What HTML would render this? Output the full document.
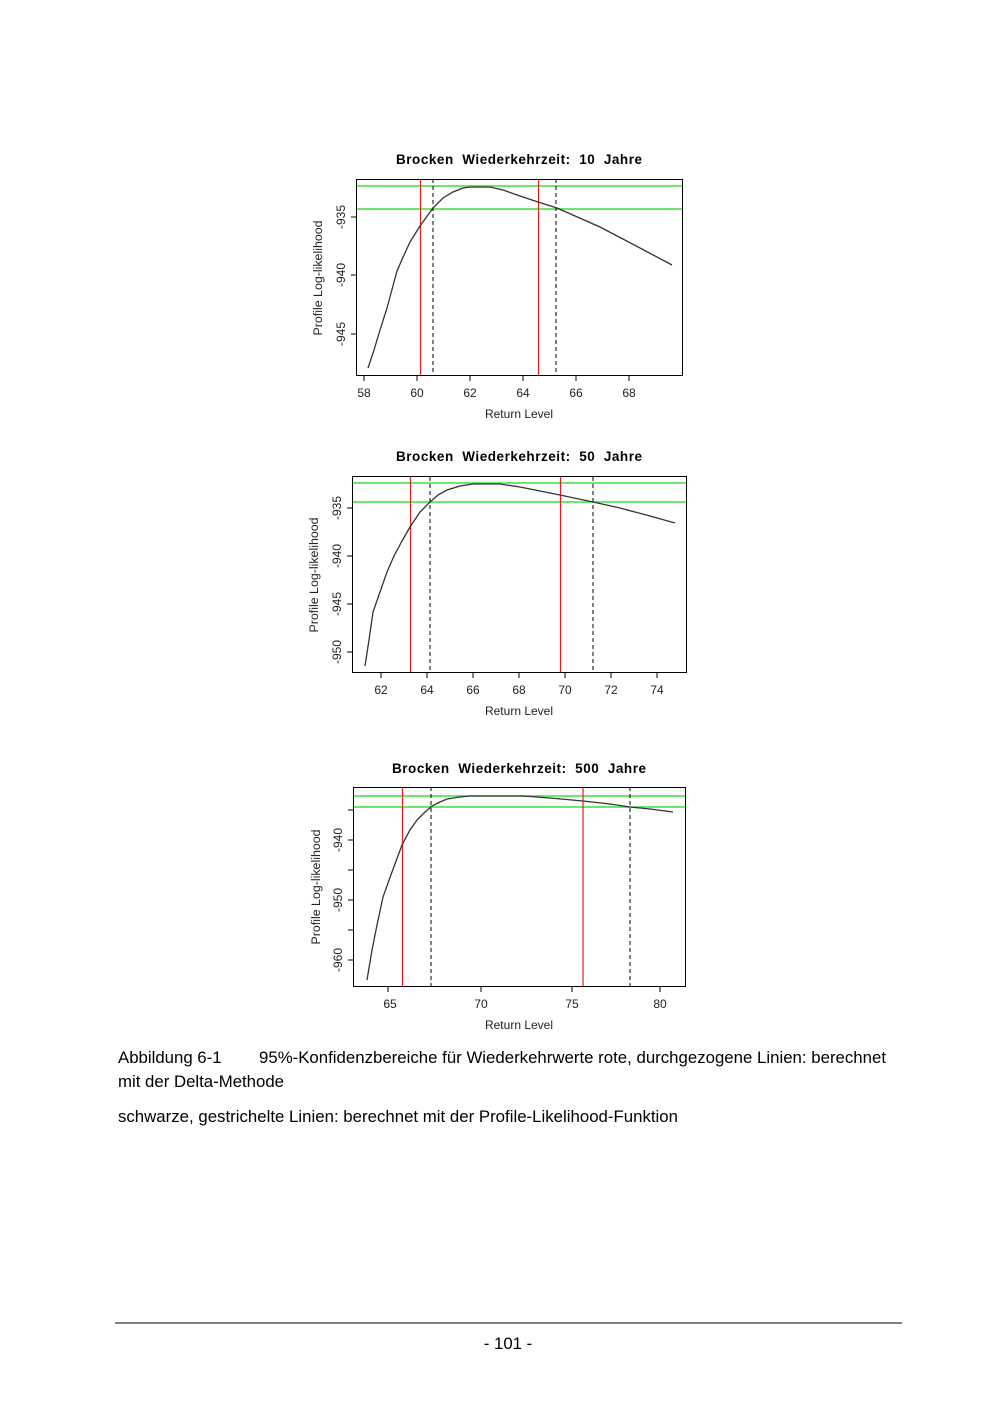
<!DOCTYPE html>
<html><head><meta charset="utf-8"><style>
body{margin:0;background:#fff;}
svg{display:block;}
.t{white-space:pre;}
</style></head><body>
<svg width="1000" height="1414" xmlns="http://www.w3.org/2000/svg" font-family="Liberation Sans, Arial, sans-serif">
<rect width="1000" height="1414" fill="#fff"/>
<!-- Chart 1 -->
<text class="t" x="519" y="164" font-size="13.5" font-weight="bold" text-anchor="middle" fill="#000" textLength="246">Brocken  Wiederkehrzeit:  10  Jahre</text>
<line x1="356" y1="186" x2="683" y2="186" stroke="#3de03d" stroke-width="1.5"/>
<line x1="356" y1="209" x2="683" y2="209" stroke="#3de03d" stroke-width="1.5"/>
<line x1="420.5" y1="179" x2="420.5" y2="376" stroke="#e02020" stroke-width="1.2"/>
<line x1="538.5" y1="179" x2="538.5" y2="376" stroke="#e02020" stroke-width="1.2"/>
<line x1="433" y1="179" x2="433" y2="376" stroke="#000" stroke-width="1" stroke-dasharray="4,3"/>
<line x1="556" y1="179" x2="556" y2="376" stroke="#000" stroke-width="1" stroke-dasharray="4,3"/>
<polyline fill="none" stroke="#333" stroke-width="1.3" points="368,368 374,350 380,330 387,308 397,271 404,255 410,242 420,226 433,208 443,198 453,192 463,188 470,187 490,187 503,190 520,196 538,202 557,208 600,227 640,248 672,265"/>
<rect x="356.5" y="179.5" width="326" height="196" fill="none" stroke="#000" stroke-width="1"/>
<g stroke="#000"><line x1="364" y1="376" x2="364" y2="381"/><line x1="417" y1="376" x2="417" y2="381"/><line x1="470" y1="376" x2="470" y2="381"/><line x1="523" y1="376" x2="523" y2="381"/><line x1="576" y1="376" x2="576" y2="381"/><line x1="629" y1="376" x2="629" y2="381"/>
<line x1="351" y1="217" x2="356" y2="217"/><line x1="351" y1="275" x2="356" y2="275"/><line x1="351" y1="334" x2="356" y2="334"/></g>
<g font-size="12" fill="#222" text-anchor="middle"><text x="364" y="397">58</text><text x="417" y="397">60</text><text x="470" y="397">62</text><text x="523" y="397">64</text><text x="576" y="397">66</text><text x="629" y="397">68</text>
<text x="519" y="418">Return Level</text>
<text transform="translate(345,217) rotate(-90)">-935</text><text transform="translate(345,275) rotate(-90)">-940</text><text transform="translate(345,334) rotate(-90)">-945</text>
<text transform="translate(322,278) rotate(-90)" font-size="12.4">Profile Log-likelihood</text></g>

<!-- Chart 2 -->
<text class="t" x="519" y="461" font-size="13.5" font-weight="bold" text-anchor="middle" fill="#000" textLength="246">Brocken  Wiederkehrzeit:  50  Jahre</text>
<line x1="352" y1="483" x2="687" y2="483" stroke="#3de03d" stroke-width="1.5"/>
<line x1="352" y1="502" x2="687" y2="502" stroke="#3de03d" stroke-width="1.5"/>
<line x1="410.5" y1="477" x2="410.5" y2="673" stroke="#e02020" stroke-width="1.2"/>
<line x1="560.5" y1="477" x2="560.5" y2="673" stroke="#e02020" stroke-width="1.2"/>
<line x1="430" y1="477" x2="430" y2="673" stroke="#000" stroke-width="1" stroke-dasharray="4,3"/>
<line x1="593" y1="477" x2="593" y2="673" stroke="#000" stroke-width="1" stroke-dasharray="4,3"/>
<polyline fill="none" stroke="#333" stroke-width="1.3" points="365,666 369,640 373,612 380,592 387,572 394,556 402,541 410,527 420,512 430,502 438,495 447,490 460,486 473,484 500,484 520,487 540,491 560,495 593,502 620,508 650,516 675,523"/>
<rect x="352.5" y="476.5" width="334" height="196" fill="none" stroke="#000" stroke-width="1"/>
<g stroke="#000"><line x1="381" y1="673" x2="381" y2="678"/><line x1="427" y1="673" x2="427" y2="678"/><line x1="473" y1="673" x2="473" y2="678"/><line x1="519" y1="673" x2="519" y2="678"/><line x1="565" y1="673" x2="565" y2="678"/><line x1="611" y1="673" x2="611" y2="678"/><line x1="657" y1="673" x2="657" y2="678"/>
<line x1="347" y1="508" x2="352" y2="508"/><line x1="347" y1="556" x2="352" y2="556"/><line x1="347" y1="604" x2="352" y2="604"/><line x1="347" y1="652" x2="352" y2="652"/></g>
<g font-size="12" fill="#222" text-anchor="middle"><text x="381" y="694">62</text><text x="427" y="694">64</text><text x="473" y="694">66</text><text x="519" y="694">68</text><text x="565" y="694">70</text><text x="611" y="694">72</text><text x="657" y="694">74</text>
<text x="519" y="715">Return Level</text>
<text transform="translate(341,508) rotate(-90)">-935</text><text transform="translate(341,556) rotate(-90)">-940</text><text transform="translate(341,604) rotate(-90)">-945</text><text transform="translate(341,652) rotate(-90)">-950</text>
<text transform="translate(318,575) rotate(-90)" font-size="12.4">Profile Log-likelihood</text></g>

<!-- Chart 3 -->
<text class="t" x="519" y="773" font-size="13.5" font-weight="bold" text-anchor="middle" fill="#000" textLength="254">Brocken  Wiederkehrzeit:  500  Jahre</text>
<line x1="353" y1="796" x2="686" y2="796" stroke="#3de03d" stroke-width="1.5"/>
<line x1="353" y1="807" x2="686" y2="807" stroke="#3de03d" stroke-width="1.5"/>
<line x1="402.5" y1="787" x2="402.5" y2="987" stroke="#e02020" stroke-width="1.2"/>
<line x1="583" y1="787" x2="583" y2="987" stroke="#e02020" stroke-width="1.2"/>
<line x1="431" y1="787" x2="431" y2="987" stroke="#000" stroke-width="1" stroke-dasharray="4,3"/>
<line x1="630" y1="787" x2="630" y2="987" stroke="#000" stroke-width="1" stroke-dasharray="4,3"/>
<polyline fill="none" stroke="#333" stroke-width="1.3" points="367,980 372,950 377,925 383,897 392,872 402,845 410,830 417,820 425,812 432,806 440,802 447,799 460,797 470,796 523,796 550,798 583,801 610,804 630,807 650,809 673,812"/>
<rect x="353.5" y="787.5" width="332" height="199" fill="none" stroke="#000" stroke-width="1"/>
<g stroke="#000"><line x1="388" y1="987" x2="388" y2="992"/><line x1="481" y1="987" x2="481" y2="992"/><line x1="572" y1="987" x2="572" y2="992"/><line x1="660" y1="987" x2="660" y2="992"/>
<line x1="348" y1="810" x2="353" y2="810"/><line x1="348" y1="840" x2="353" y2="840"/><line x1="348" y1="870" x2="353" y2="870"/><line x1="348" y1="900" x2="353" y2="900"/><line x1="348" y1="930" x2="353" y2="930"/><line x1="348" y1="960" x2="353" y2="960"/></g>
<g font-size="12" fill="#222" text-anchor="middle"><text x="390" y="1008">65</text><text x="481" y="1008">70</text><text x="572" y="1008">75</text><text x="660" y="1008">80</text>
<text x="519" y="1029">Return Level</text>
<text transform="translate(342,840) rotate(-90)">-940</text><text transform="translate(342,900) rotate(-90)">-950</text><text transform="translate(342,960) rotate(-90)">-960</text>
<text transform="translate(320,887) rotate(-90)" font-size="12.4">Profile Log-likelihood</text></g>

<!-- Caption -->
<g font-size="16.8" fill="#000">
<text x="118" y="1063">Abbildung 6-1</text>
<text x="259" y="1063" textLength="627">95%-Konfidenzbereiche für Wiederkehrwerte rote, durchgezogene Linien: berechnet</text>
<text x="118" y="1087">mit der Delta-Methode</text>
<text x="118" y="1122" textLength="560">schwarze, gestrichelte Linien: berechnet mit der Profile-Likelihood-Funktion</text>
</g>
<line x1="115" y1="1323" x2="902" y2="1323" stroke="#000" stroke-width="1"/>
<text x="508" y="1349" font-size="16.8" text-anchor="middle" fill="#000">- 101 -</text>
</svg>
</body></html>
